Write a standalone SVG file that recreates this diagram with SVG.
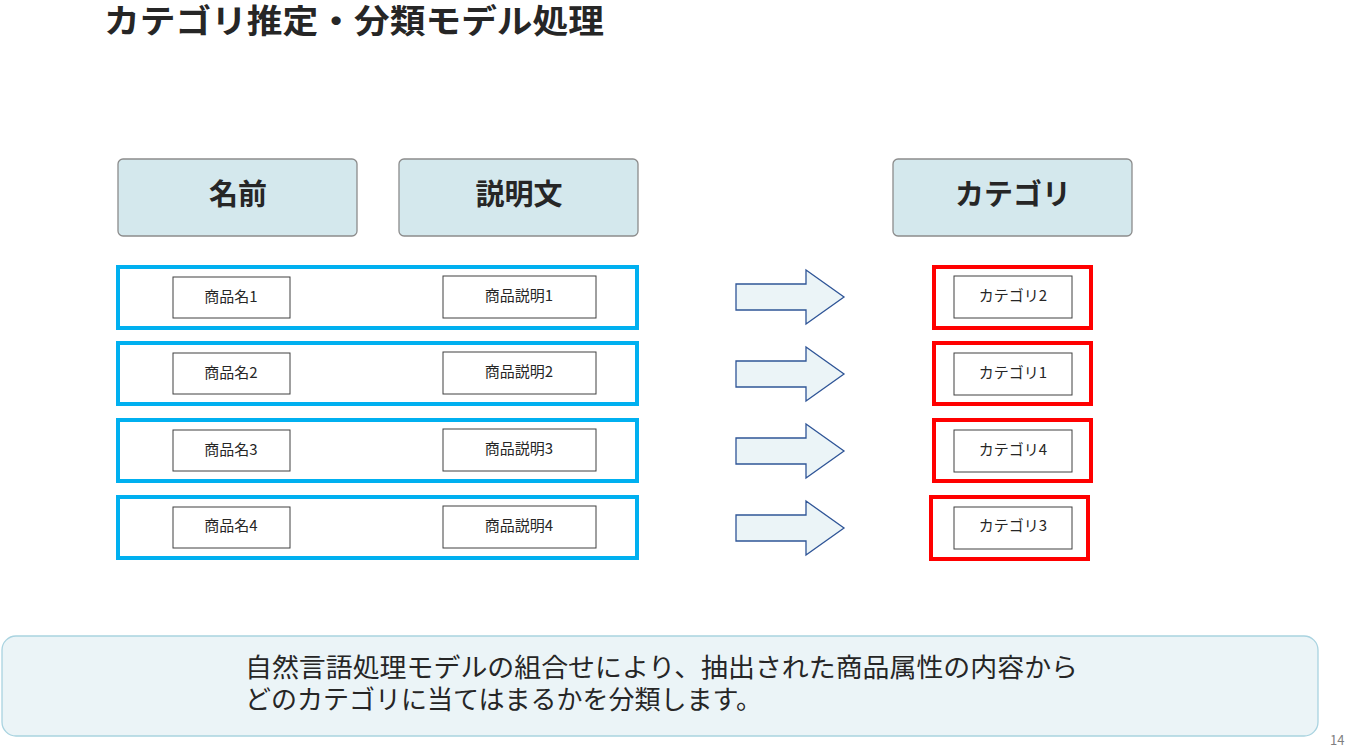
<svg xmlns="http://www.w3.org/2000/svg" width="1349" height="747" viewBox="0 0 1349 747">
<style>
text{font-family:"Noto Sans CJK JP","Noto Sans",sans-serif;fill:#262626}
.h{fill:#d4e8ed;stroke:#8c8c8c;stroke-width:1.3}
.ht{font-size:29px;font-weight:bold;text-anchor:middle}
.row{fill:#fff;stroke:#00b0f0;stroke-width:4}
.red{fill:#fff;stroke:#ff0000;stroke-width:4}
.b{fill:#fff;stroke:#404040;stroke-width:1}
.bt{font-size:15px;text-anchor:middle}
.ar{fill:#ebf4f7;stroke:#2f5597;stroke-width:1.3}
</style>
<rect width="1349" height="747" fill="#fff"/>
<text x="104" y="33" font-size="33" font-weight="bold" textLength="500" lengthAdjust="spacingAndGlyphs">カテゴリ推定・分類モデル処理</text>
<g id="h-name"><rect class="h" x="118" y="159" width="239" height="77" rx="5"/><text class="ht" x="238" y="205">名前</text></g>
<g id="h-desc"><rect class="h" x="399" y="159" width="239" height="77" rx="5"/><text class="ht" x="519" y="205">説明文</text></g>
<g id="h-cat"><rect class="h" x="893" y="159" width="239" height="77" rx="5"/><text class="ht" x="1013" y="205">カテゴリ</text></g>
<g id="row1"><rect class="row" x="118" y="267" width="519" height="61"/><rect class="b" x="173" y="277" width="117" height="41"/><text class="bt" x="231" y="302">商品名1</text><rect class="b" x="443" y="276" width="153" height="42"/><text class="bt" x="519" y="301">商品説明1</text></g>
<g id="row2"><rect class="row" x="118" y="343" width="519" height="61"/><rect class="b" x="173" y="353" width="117" height="41"/><text class="bt" x="231" y="378">商品名2</text><rect class="b" x="443" y="352" width="153" height="42"/><text class="bt" x="519" y="377">商品説明2</text></g>
<g id="row3"><rect class="row" x="118" y="420" width="519" height="61"/><rect class="b" x="173" y="430" width="117" height="41"/><text class="bt" x="231" y="455">商品名3</text><rect class="b" x="443" y="429" width="153" height="42"/><text class="bt" x="519" y="454">商品説明3</text></g>
<g id="row4"><rect class="row" x="118" y="497" width="519" height="61"/><rect class="b" x="173" y="507" width="117" height="41"/><text class="bt" x="231" y="531">商品名4</text><rect class="b" x="443" y="506" width="153" height="42"/><text class="bt" x="519" y="531">商品説明4</text></g>
<g id="connectors">
<path class="ar" d="M736,284H806V270L844,297L806,324V310H736Z"/>
<path class="ar" d="M736,361H806V347L844,374L806,401V387H736Z"/>
<path class="ar" d="M736,438H806V424L844,451L806,478V464H736Z"/>
<path class="ar" d="M736,515H806V501L844,528L806,555V541H736Z"/>
</g>
<g id="cat1"><rect class="red" x="934" y="267" width="157" height="61"/><rect class="b" x="954" y="276" width="118" height="42"/><text class="bt" x="1013" y="301">カテゴリ2</text></g>
<g id="cat2"><rect class="red" x="934" y="343" width="157" height="61"/><rect class="b" x="954" y="353" width="118" height="42"/><text class="bt" x="1013" y="378">カテゴリ1</text></g>
<g id="cat3"><rect class="red" x="934" y="420" width="157" height="61"/><rect class="b" x="954" y="430" width="118" height="42"/><text class="bt" x="1013" y="455">カテゴリ4</text></g>
<g id="cat4"><rect class="red" x="931" y="497" width="157" height="62"/><rect class="b" x="954" y="507" width="118" height="42"/><text class="bt" x="1013" y="531">カテゴリ3</text></g>
<g id="note"><rect x="2" y="636" width="1316" height="100" rx="14" fill="#ebf4f7" stroke="#a9d3e0" stroke-width="1.3"/>
<text x="245" y="677" font-size="26" textLength="833" lengthAdjust="spacingAndGlyphs">自然言語処理モデルの組合せにより、抽出された商品属性の内容から</text>
<text x="245" y="709" font-size="26">どのカテゴリに当てはまるかを分類します。</text></g>
<text x="1330" y="745" font-size="13" style="fill:#7f7f7f">14</text>
</svg>
